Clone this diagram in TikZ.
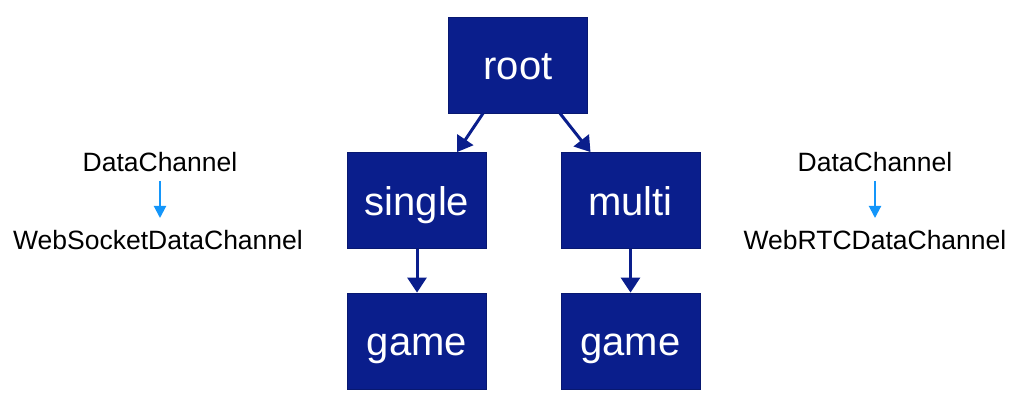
\documentclass[tikz,border=0pt]{standalone}
\usepackage{fontspec}
\setmainfont{Liberation Sans}
\usetikzlibrary{arrows.meta,calc}
\definecolor{navy}{RGB}{10,30,140}
\definecolor{skyb}{RGB}{20,150,250}
\tikzset{
  box/.style={fill=navy,draw=navy!80!black,line width=0.8pt,minimum width=139pt,minimum height=96pt,inner sep=0pt,text=white,text height=34pt,text depth=5pt,font=\fontsize{40}{40}\selectfont},
  tree/.style={draw=navy,line width=3pt,-{Triangle[width=19pt,length=15pt]}},
  lbl/.style={font=\fontsize{26.5}{26.5}\selectfont,inner sep=0pt,text=black,anchor=base},
  inh/.style={draw=skyb,line width=2pt,-{Triangle[width=12pt,length=12pt]}}
}
\begin{document}
\begin{tikzpicture}[x=1pt,y=-1pt]
\useasboundingbox (0,0) rectangle (1024,403);
\node[box] (root) at (518,65) {root};
\node[box] (single) at (417,200.5) {single};
\node[box] (multi) at (630.5,200.5) {multi};
\node[box] (gameL) at (417,341) {game};
\node[box] (gameR) at (630.5,341) {game};
\draw[tree] ($(root.south)+(-35,0)$) -- ($(single.north)+(40,0)$);
\draw[tree] ($(root.south)+(42,0)$) -- ($(multi.north)+(-40,0)$);
\draw[tree] (single.south) -- (gameL.north);
\draw[tree] (multi.south) -- (gameR.north);
\node[lbl] (dcL) at (160,172) {DataChannel};
\node[lbl] (wsL) at (158,249) {WebSocketDataChannel};
\node[lbl] (dcR) at (875,172) {DataChannel};
\node[lbl] (rtR) at (875,249) {WebRTCDataChannel};
\draw[inh] ($(dcL.base)+(0,9)$) -- ($(wsL.base)+(2,-31)$);
\draw[inh] ($(dcR.base)+(0,9)$) -- ($(rtR.base)+(0,-31)$);
\end{tikzpicture}
\end{document}
